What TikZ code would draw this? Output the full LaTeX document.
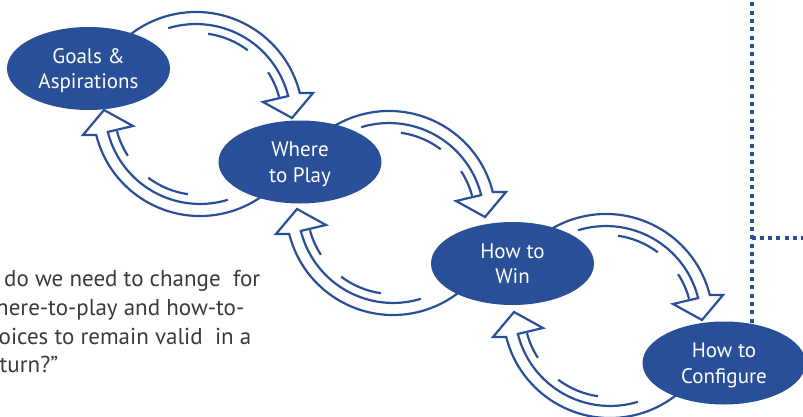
\documentclass[tikz,border=0pt]{standalone}
\usepackage{fontspec}
\setmainfont{PT Sans}
\usetikzlibrary{shapes.geometric}
\definecolor{deepblue}{RGB}{41,79,152}
\definecolor{quotegray}{RGB}{58,58,58}

% One hollow curved arrow with its inner motion dashes (first loop, pixel units)
\newcommand{\halfloop}{%
  \draw[arrowline] (168.2,28.2) arc[start angle=-107, end angle=-14, radius=95]
    -- (263,102) -- (292,118) -- (313,93) -- (299.8,93.1)
    arc[start angle=-14, end angle=-135, radius=107];
  \draw[dashline] (208.0,33.8) arc[start angle=-82, end angle=-53, radius=86];
  \draw[dashline] (268.1,72.2) arc[start angle=-33, end angle=-15, radius=86];
}
% Forward arrow plus the return arrow turned half a circle
\newcommand{\fullloop}{%
  \halfloop
  \begin{scope}[shift={(396,228)}, rotate=180]
    \halfloop
  \end{scope}
}

\begin{document}
\begin{tikzpicture}[x=1pt, y=-1pt,
  stage/.style={ellipse, fill=deepblue, text=white, minimum width=163pt,
    minimum height=83pt, inner sep=0pt, align=center, text depth=0pt,
    font=\fontsize{21}{25.5}\selectfont},
  arrowline/.style={draw=deepblue, line width=2.2pt, line join=miter},
  dashline/.style={draw=deepblue, line width=2.2pt},
  dotline/.style={draw=deepblue, line width=4pt, dash pattern=on 4pt off 4.33pt},
  quote/.style={text=quotegray, font=\fontsize{23}{28}\selectfont,
    anchor=base west, inner sep=0pt}]

\useasboundingbox (0,0) rectangle (803,417);

% feedback loops between neighbouring stages
\fullloop
\begin{scope}[shift={(193,99)}]\fullloop\end{scope}
\begin{scope}[shift={(410,202)}]\fullloop\end{scope}

% stages
\node[stage] (goals)  at (88.5,68.5)  {Goals \&\\Aspirations};
\node[stage] (play)   at (300,162)    {Where\\to Play};
\node[stage] (win)    at (512.5,263.5) {How to\\Win};
\node[stage] (config) at (724,363)    {How to\\Configure};

% dotted guide lines
\coordinate (top)    at (config.55 |- 0,2.2);
\coordinate (branch) at (config.55 |- 0,238);
\coordinate (edge)   at (805,238);
\draw[dotline] (top) -- (config.55);
\draw[dotline] (branch) -- (edge);

% quotation
\node[quote] (q1) at (4,286)    {do we need to change~~for};
\node[quote] (q2) at (-4,315)   {here-to-play and how-to-};
\node[quote] (q3) at (-1.5,344) {oices to remain valid~~in a};
\node[quote] (q4) at (-0.5,372) {turn?”};
\end{tikzpicture}
\end{document}
